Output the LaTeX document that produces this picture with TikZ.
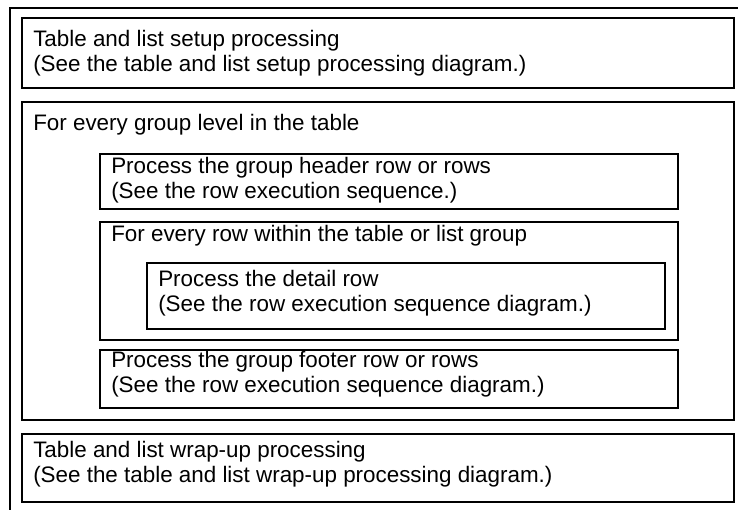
\documentclass[tikz,border=0pt]{standalone}
\usepackage{fontspec}
\setmainfont{Liberation Sans}
\usetikzlibrary{positioning}

\begin{document}
\begin{tikzpicture}[x=0.75pt, y=-0.75pt,
        box/.style={draw, rectangle, line width=1.5pt, anchor=north west, inner sep=0pt},
        txt/.style={anchor=base west, align=left, inner sep=0pt, font=\fontsize{16.8pt}{18.4pt}\selectfont}]
        \useasboundingbox (0,0) rectangle (738,510);

        % Outer frame
        \draw[line width=1.5pt] (738,8) -- (10,8) -- (10,510);

        % Boxes
        \node[box, minimum width=534pt, minimum height=52.5pt] (setup) at (21,17) {};
        \node[box, minimum width=534pt, minimum height=238.5pt] (group) at (21,101) {};
        \node[box, minimum width=433.5pt, minimum height=41.25pt] (header) at (99,153) {};
        \node[box, minimum width=433.5pt, minimum height=88.5pt] (rows) at (99,221) {};
        \node[box, minimum width=388.5pt, minimum height=49.5pt] (detail) at (146,262) {};
        \node[box, minimum width=433.5pt, minimum height=43.5pt] (footer) at (99,349) {};
        \node[box, minimum width=534pt, minimum height=51pt] (wrapup) at (21,433) {};

        % Texts (base = last line)
        \node[txt] (setupText) at ([shift={(12,54)}]setup.north west) {Table and list setup processing\\(See the table and list setup processing diagram.)};
        \node[txt] (groupText) at ([shift={(12,29)}]group.north west) {For every group level in the table};
        \node[txt] (headerText) at ([shift={(12,45)}]header.north west) {Process the group header row or rows\\(See the row execution sequence.)};
        \node[txt] (rowsText) at ([shift={(12,20.5)}]rows.north west) {For every row within the table or list group};
        \node[txt] (detailText) at ([shift={(12,49)}]detail.north west) {Process the detail row\\(See the row execution sequence diagram.)};
        \node[txt] (footerText) at ([shift={(12,43)}]footer.north west) {Process the group footer row or rows\\(See the row execution sequence diagram.)};
        \node[txt] (wrapupText) at ([shift={(12,49)}]wrapup.north west) {Table and list wrap-up processing\\(See the table and list wrap-up processing diagram.)};
    \end{tikzpicture}
\end{document}
